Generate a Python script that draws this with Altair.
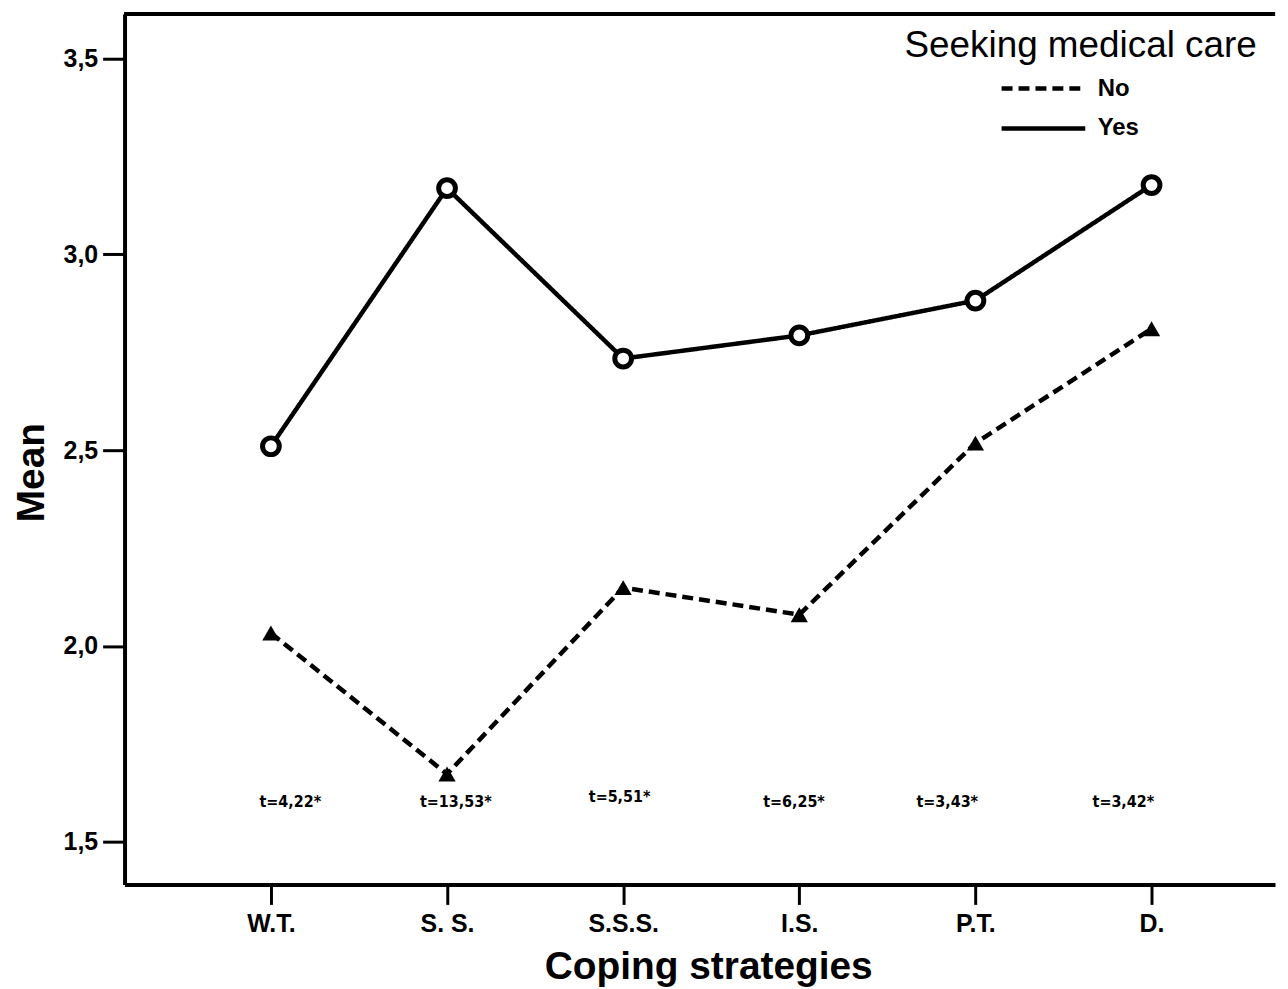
import json
import altair as alt
import pandas as pd

# ---- data ----
categories = ["W.T.", "S. S.", "S.S.S.", "I.S.", "P.T.", "D."]
yes_means = [2.510, 3.169, 2.734, 2.793, 2.882, 3.177]
no_means = [2.033, 1.673, 2.149, 2.080, 2.518, 2.810]
t_labels = ["t=4,22*", "t=13,53*", "t=5,51*", "t=6,25*", "t=3,43*", "t=3,42*"]
t_pos = [0.11, 1.05, 1.98, 2.97, 3.84, 4.84]
t_level = [1.602, 1.602, 1.615, 1.602, 1.602, 1.602]
groups = ["No", "Yes"]

rows = []
for i, c in enumerate(categories):
    rows.append({"idx": i, "category": c, "group": "No", "mean": no_means[i]})
    rows.append({"idx": i, "category": c, "group": "Yes", "mean": yes_means[i]})
df = pd.DataFrame(rows)
tdf = pd.DataFrame({"pos": t_pos, "level": t_level, "label": t_labels})

FONT = "Liberation Sans, Arial, Helvetica, sans-serif"
W, H = 1155, 874

label_expr = json.dumps(categories) + "[datum.value]"

x_enc = alt.X(
    "idx:Q",
    scale=alt.Scale(domain=[-0.831, 5.701], nice=False, zero=False),
    axis=alt.Axis(
        values=list(range(len(categories))),
        labelExpr=label_expr,
        title="Coping strategies",
        titleFont=FONT, titleFontSize=39, titleFontWeight="bold",
        titleX=586, titleY=94, titleBaseline="alphabetic", titleAlign="center",
        labelFont=FONT, labelFontSize=25, labelFontWeight="bold", labelColor="black",
        labelPadding=7,
        tickSize=20, tickWidth=3, tickColor="black",
        domainColor="black", domainWidth=4, grid=False,
    ),
)
y_enc = alt.Y(
    "mean:Q",
    scale=alt.Scale(domain=[1.391, 3.614], nice=False, zero=False),
    axis=alt.Axis(
        values=[1.5, 2.0, 2.5, 3.0, 3.5],
        labelExpr="replace(format(datum.value, '.1f'), '.', ',')",
        title="Mean",
        titleFont=FONT, titleFontSize=39, titleFontWeight="bold",
        titleAngle=270, titleX=-93, titleY=460, titleAlign="center", titleBaseline="middle",
        labelFont=FONT, labelFontSize=25, labelFontWeight="bold", labelColor="black",
        labelPadding=5,
        tickSize=22, tickWidth=3, tickColor="black",
        domainColor="black", domainWidth=4, grid=False,
    ),
)

lines = alt.Chart(df).mark_line(strokeWidth=4.5, color="black").encode(
    x=x_enc,
    y=y_enc,
    strokeDash=alt.StrokeDash(
        "group:N",
        scale=alt.Scale(domain=groups, range=[[11, 6], [1, 0]]),
        legend=alt.Legend(
            title="Seeking medical care",
            orient="none", legendX=783, legendY=14,
            titleFont=FONT, titleFontSize=37, titleFontWeight="normal", titleColor="black",
            titlePadding=11, titleLimit=500,
            labelFont=FONT, labelFontSize=24, labelFontWeight="bold", labelColor="black",
            symbolType="stroke", symbolSize=7056, symbolStrokeWidth=4.5,
            symbolStrokeColor="black", symbolOffset=95, labelOffset=10,
            clipHeight=26, rowPadding=14, padding=0,
        ),
    ),
)

yes_pts = alt.Chart(df).transform_filter(alt.datum.group == "Yes").mark_point(
    shape="circle", filled=True, fill="white", stroke="black", strokeWidth=5,
    size=283, opacity=1,
).encode(x="idx:Q", y="mean:Q")

no_pts = alt.Chart(df).transform_filter(alt.datum.group == "No").mark_point(
    shape="triangle-up", filled=True, color="black", size=300, opacity=1,
).encode(x="idx:Q", y="mean:Q")

t_text = alt.Chart(tdf).mark_text(
    font="DejaVu Sans Condensed, DejaVu Sans", fontSize=16, fontWeight="bold",
    color="black", align="center", baseline="middle",
).encode(x="pos:Q", y="level:Q", text="label:N")

top_rule = alt.Chart(tdf).mark_rule(color="black", strokeWidth=4).encode(
    y=alt.value(0)
)

chart = (
    alt.layer(lines, yes_pts, no_pts, t_text, top_rule)
    .properties(
        width=W, height=H,
        autosize=alt.AutoSizeParams(type="none"),
        padding={"left": 117, "top": 4, "right": 5, "bottom": 103},
        background="white",
    )
    .configure_view(stroke=None)
)

chart.save("out.html", embed_options={"renderer": "svg", "actions": False})
